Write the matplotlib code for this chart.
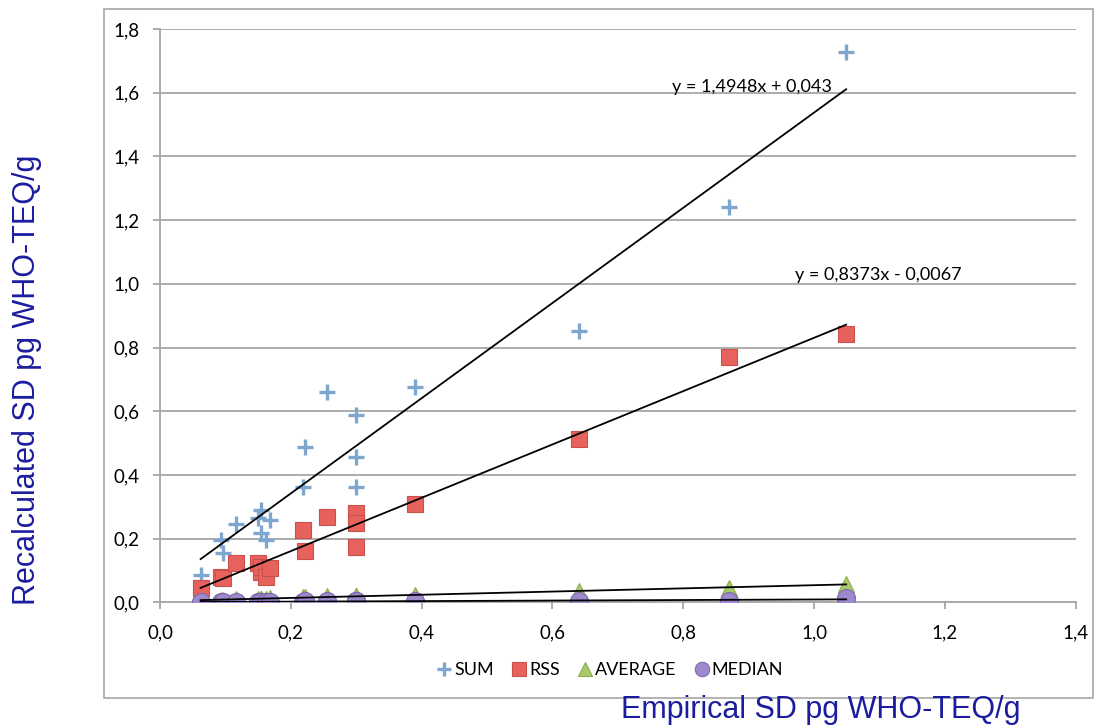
import numpy as np
import matplotlib
matplotlib.use("Agg")
import matplotlib.pyplot as plt
from matplotlib.patches import Rectangle
from matplotlib.ticker import FuncFormatter

# Empirical SD (x) and recalculated SD per method (y)
emp_sd = [0.062, 0.093, 0.097, 0.116, 0.149, 0.154, 0.155, 0.162, 0.168, 0.219,
          0.222, 0.256, 0.299, 0.299, 0.300, 0.390, 0.640, 0.870, 1.049]
sum_sd = [0.086, 0.196, 0.154, 0.246, 0.264, 0.290, 0.217, 0.196, 0.258, 0.363,
          0.489, 0.661, 0.455, 0.361, 0.588, 0.677, 0.853, 1.241, 1.728]
rss_sd = [0.044, 0.078, 0.075, 0.124, 0.124, 0.096, 0.110, 0.080, 0.107, 0.227,
          0.162, 0.269, 0.281, 0.250, 0.175, 0.309, 0.512, 0.769, 0.841]
avg_sd = [0.006, 0.008, 0.008, 0.009, 0.010, 0.010, 0.011, 0.010, 0.012, 0.017,
          0.018, 0.020, 0.020, 0.018, 0.019, 0.022, 0.034, 0.045, 0.058]
med_sd = [0.001, 0.001, 0.001, 0.001, 0.002, 0.002, 0.002, 0.002, 0.002, 0.002,
          0.003, 0.003, 0.003, 0.003, 0.003, 0.003, 0.004, 0.003, 0.014]

# linear trendlines (slope, intercept) as printed on the chart
sum_fit = (1.4948, 0.043)
rss_fit = (0.8373, -0.0067)
sum_label = "y = 1,4948x + 0,043"
rss_label = "y = 0,8373x - 0,0067"

x = np.array(emp_sd)
ui = ['Lato', 'DejaVu Sans']
blue_txt = '#1c1ca0'

fig = plt.figure(figsize=(10.94, 7.26), dpi=100)
ax = fig.add_axes([0.1463, 0.1704, 0.8370, 0.7896])

# outer chart frame
fig.patches.append(Rectangle((0.0951, 0.0386), 0.904, 0.949, transform=fig.transFigure,
                             fill=False, edgecolor='#a6a6a6', linewidth=1.2))

ax.plot(x, sum_sd, linestyle='none', marker='+', markersize=12, markeredgewidth=2.4,
        color='#7ea6cf', label='SUM', zorder=3)
ax.plot(x, rss_sd, linestyle='none', marker='s', markersize=12, markerfacecolor='#e8625d',
        markeredgecolor='#c9504b', markeredgewidth=0.8, label='RSS', zorder=3)
ax.plot(x, avg_sd, linestyle='none', marker='^', markersize=12, markerfacecolor='#a9c96a',
        markeredgecolor='#8cab4e', markeredgewidth=0.8, label='AVERAGE', zorder=3)
ax.plot(x, med_sd, linestyle='none', marker='o', markersize=13, markerfacecolor='#9d89cb',
        markeredgecolor='#7e6aab', markeredgewidth=0.8, label='MEDIAN', zorder=3)

# trendlines over the data range
xr = np.array([x.min(), x.max()])
ax.plot(xr, sum_fit[0] * xr + sum_fit[1], color='black', linewidth=1.3, zorder=4)
ax.plot(xr, rss_fit[0] * xr + rss_fit[1], color='black', linewidth=1.3, zorder=4)
for ys in (avg_sd, med_sd):
    k, b = np.polyfit(x, ys, 1)
    ax.plot(xr, k * xr + b, color='black', linewidth=1.3, zorder=4)

ax.text(0.905, 1.618, sum_label, ha='center', va='center', fontsize=13, family=ui, zorder=5)
ax.text(1.098, 1.028, rss_label, ha='center', va='center', fontsize=13, family=ui, zorder=5)

ax.set_xlim(0, 1.4)
ax.set_ylim(0, 1.8)
ax.set_xticks(np.arange(0, 1.41, 0.2))
ax.set_yticks(np.arange(0, 1.81, 0.2))
fmt = FuncFormatter(lambda v, p: f"{v:.1f}".replace('.', ','))
ax.xaxis.set_major_formatter(fmt)
ax.yaxis.set_major_formatter(fmt)
ax.grid(axis='y', color='#a6a6a6', linewidth=1.3)
ax.set_axisbelow(True)
for s in ('top', 'right'):
    ax.spines[s].set_visible(False)
for s in ('left', 'bottom'):
    ax.spines[s].set_color('#a6a6a6')
    ax.spines[s].set_linewidth(1.3)
ax.tick_params(axis='both', color='#a6a6a6', width=1.3, length=5, labelsize=13.5)
ax.tick_params(axis='y', pad=10)
ax.tick_params(axis='x', pad=11)
for lab in ax.get_xticklabels() + ax.get_yticklabels():
    lab.set_family(ui)

fig.text(0.025, 0.477, "Recalculated SD pg WHO-TEQ/g", rotation=90, ha='center', va='center',
         fontsize=22, color=blue_txt, family='Liberation Sans')
fig.text(0.750, 0.022, "Empirical SD pg WHO-TEQ/g", ha='center', va='center',
         fontsize=22, color=blue_txt, family='Liberation Sans')

fig.legend(loc='center', bbox_to_anchor=(0.557, 0.0771), ncol=4, frameon=False,
           prop={'family': ui, 'size': 13}, handletextpad=0.05, columnspacing=0.9,
           handlelength=1.0, markerscale=0.8)

fig.savefig('out.png', dpi=100)
